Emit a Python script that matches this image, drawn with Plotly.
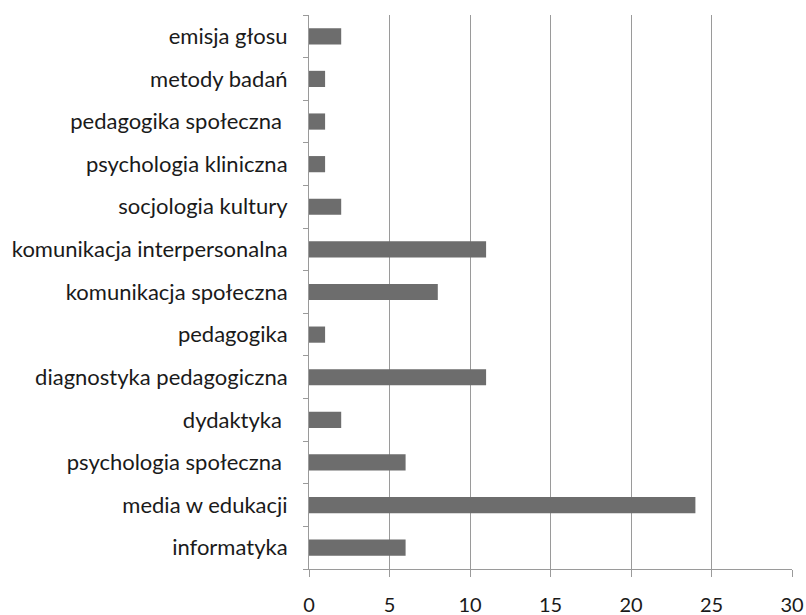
import plotly.graph_objects as go

# categories listed bottom to top, as in the chart
categories = [
    "informatyka",
    "media w edukacji",
    "psychologia społeczna\u00a0",
    "dydaktyka\u00a0",
    "diagnostyka pedagogiczna",
    "pedagogika",
    "komunikacja społeczna",
    "komunikacja interpersonalna",
    "socjologia kultury",
    "psychologia kliniczna",
    "pedagogika społeczna\u00a0",
    "metody badań",
    "emisja głosu",
]
values = [6, 24, 6, 2, 11, 1, 8, 11, 2, 1, 1, 1, 2]
x_ticks = [0, 5, 10, 15, 20, 25, 30]

fig = go.Figure(go.Bar(
    x=values,
    y=categories,
    orientation="h",
    marker=dict(color="#6d6d6d", line=dict(width=0)),
    width=0.38,
))

fig.update_layout(
    width=806,
    height=615,
    margin=dict(l=309, r=14, t=15, b=46),
    paper_bgcolor="white",
    plot_bgcolor="white",
    font=dict(family="Lato, Open Sans, sans-serif", size=22, color="#1a1a1a"),
    showlegend=False,
    xaxis=dict(
        range=[0, 30],
        tickvals=x_ticks,
        automargin=False,
        showgrid=True,
        gridcolor="#9a9a9a",
        gridwidth=1,
        zeroline=False,
        showline=True,
        linecolor="#9a9a9a",
        ticks="outside",
        ticklen=7,
        tickcolor="#9a9a9a",
        ticklabelstandoff=11,
        tickfont=dict(size=20),
    ),
    yaxis=dict(
        type="category",
        categoryorder="array",
        categoryarray=categories,
        automargin=False,
        showgrid=False,
        showline=True,
        linecolor="#9a9a9a",
        ticks="outside",
        tickson="boundaries",
        ticklen=5,
        tickcolor="#9a9a9a",
        ticklabelstandoff=16,
    ),
)

# drop the browser's default body margin so the figure sits at the page corner
fig.write_html(
    "out.html",
    config={"displayModeBar": False},
    post_script="document.body.style.margin='0';",
)
